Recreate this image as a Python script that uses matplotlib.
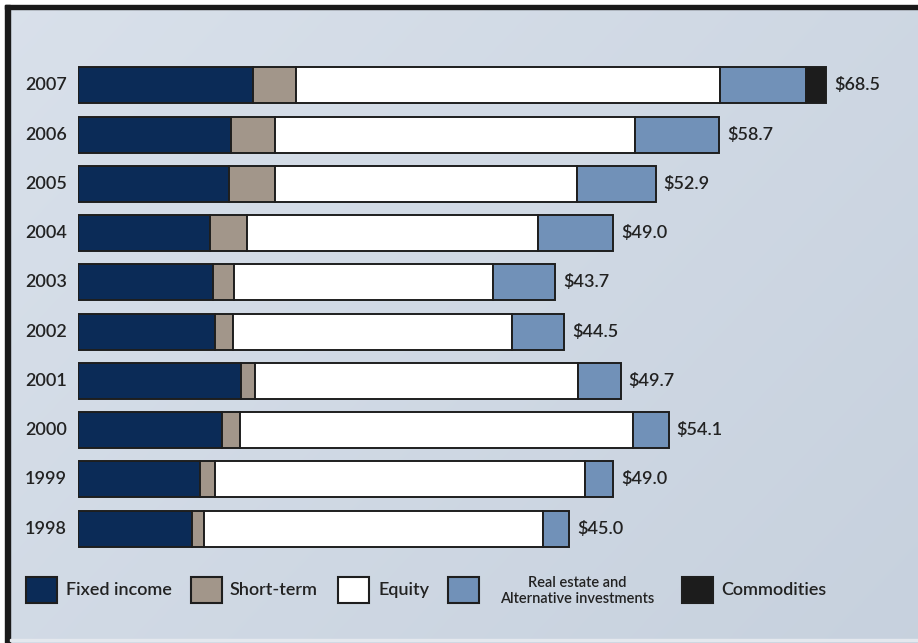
import numpy as np
import matplotlib
matplotlib.use('Agg')
from matplotlib import pyplot as plt
from matplotlib.patches import Rectangle

plt.rcParams['font.family'] = ['Lato', 'DejaVu Sans']
plt.rcParams['font.weight'] = 'semibold'

# data, $ billions
years = ['1998', '1999', '2000', '2001', '2002', '2003', '2004', '2005', '2006', '2007']
fixed_income = [10.4, 11.2, 13.2, 14.9, 12.5, 12.4, 12.1, 13.8, 14.0, 16.0]
short_term = [1.1, 1.3, 1.6, 1.3, 1.7, 1.9, 3.4, 4.2, 4.0, 4.0]
equity = [31.1, 33.9, 36.0, 29.6, 25.5, 23.7, 26.6, 27.7, 33.0, 38.8]
real_estate_alt = [2.4, 2.6, 3.3, 3.9, 4.8, 5.7, 6.9, 7.2, 7.7, 7.9]
commodities = [0, 0, 0, 0, 0, 0, 0, 0, 0, 1.8]
totals = ['$45.0', '$49.0', '$54.1', '$49.7', '$44.5', '$43.7', '$49.0', '$52.9', '$58.7', '$68.5']

series_names = ['Fixed income', 'Short-term', 'Equity',
                'Real estate and\nAlternative investments', 'Commodities']
series_colors = ['#0b2b57', '#a2968a', '#ffffff', '#7191b8', '#1c1c1c']
EDGE = '#1e1e1e'
TXT = '#222222'

W, H = 918, 643
fig = plt.figure(figsize=(W / 100, H / 100), dpi=100)

# background panel, light blue-grey, a bit lighter toward top-left
bg = fig.add_axes([0, 0, 1, 1])
xx, yy = np.meshgrid(np.linspace(0, 1, 200), np.linspace(0, 1, 140))
shade = 0.6 * xx + 0.4 * yy
c0 = np.array([0.85, 0.88, 0.92])
c1 = np.array([0.78, 0.82, 0.87])
img = c0[None, None, :] * (1 - shade[..., None]) + c1[None, None, :] * shade[..., None]
bg.imshow(img, extent=[0, W, H, 0], aspect='auto', interpolation='bilinear')
bg.set_xlim(0, W)
bg.set_ylim(H, 0)
bg.axis('off')
# white margins and dark frame
bg.add_patch(Rectangle((0, 0), W, 5, color='white', zorder=2))
bg.add_patch(Rectangle((0, 0), 5, H, color='white', zorder=2))
bg.add_patch(Rectangle((5, 5), W - 5, 4, color='#1a1a1a', zorder=3))
bg.add_patch(Rectangle((5, 5), 5, H - 5, color='#1a1a1a', zorder=3))
bg.add_patch(Rectangle((10, H - 4), W - 10, 2, color='#e4e8ee', zorder=3))

# legend drawn by hand
leg_boxes = [26, 191, 338, 448, 682]
leg_text_x = [66, 230, 379, 577, 721]
for i, name in enumerate(series_names):
    bg.add_patch(Rectangle((leg_boxes[i], 577), 31, 26, facecolor=series_colors[i],
                           edgecolor=EDGE, linewidth=1.5, zorder=4))
    if '\n' in name:
        bg.text(leg_text_x[i], 591, name, ha='center', va='center', fontsize=10.5,
                color=TXT, linespacing=1.25, zorder=5)
    else:
        bg.text(leg_text_x[i], 590, name, ha='left', va='center', fontsize=13,
                color=TXT, zorder=5)

# bars
x0, px_per = 78, 10.92
ax = fig.add_axes([x0 / W, (H - 560) / H, (900 - x0) / W, 500 / H])
ax.set_xlim(0, (900 - x0) / px_per)
ax.set_ylim(-0.635, 9.513)
ax.axis('off')
ax.patch.set_alpha(0)

ypos = np.arange(len(years))
left = np.zeros(len(years))
for vals, col in zip([fixed_income, short_term, equity, real_estate_alt, commodities], series_colors):
    vals = np.array(vals)
    mask = vals > 0
    ax.barh(ypos[mask], vals[mask], left=left[mask], height=0.73, color=col,
            edgecolor=EDGE, linewidth=1.4)
    left += vals

for i, yr in enumerate(years):
    ax.annotate(yr, xy=(0, i), xytext=(-11, 0), textcoords='offset pixels',
                ha='right', va='center', fontsize=13, color=TXT)
    ax.annotate(totals[i], xy=(left[i], i), xytext=(8, 0), textcoords='offset pixels',
                ha='left', va='center', fontsize=13, color=TXT)

fig.savefig('out.png', dpi=100)
